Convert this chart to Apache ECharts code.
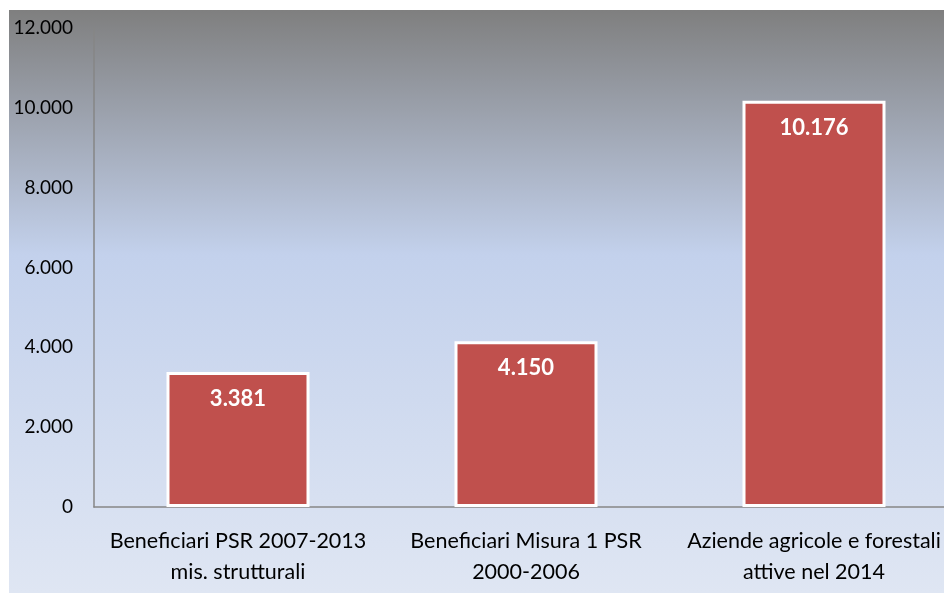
<!DOCTYPE html>
<html><head><meta charset="utf-8">
<script src="https://cdn.jsdelivr.net/npm/echarts@6/dist/echarts.min.js"></script>
<style>
html,body{margin:0;padding:0;background:#fff;overflow:hidden;width:944px;height:594px;}
#c{position:absolute;left:9px;top:10px;width:949px;height:583px;}
</style></head><body>
<div id="c"></div>
<script>
const categories = ['Beneficiari PSR 2007-2013\nmis. strutturali', 'Beneficiari Misura 1 PSR\n2000-2006', 'Aziende agricole e forestali\nattive nel 2014'];
const values = [3381, 4150, 10176];
const yTicks = [0, 2000, 4000, 6000, 8000, 10000, 12000];

function fmt(v){ return String(v).replace(/\B(?=(\d{3})+(?!\d))/g, '.'); }
const FONT = 'Lato';
const chart = echarts.init(document.getElementById('c'));
chart.setOption({
  backgroundColor: new echarts.graphic.LinearGradient(0,0,0,1,[
    {offset:0,color:'#7f7f7f'},
    {offset:0.42,color:'#c3d1ec'},
    {offset:1,color:'#dfe6f3'}
  ]),
  animation:false,
  grid:{left:85,right:0,top:18,bottom:86,containLabel:false},
  xAxis:{type:'category',data:categories,
    axisLine:{lineStyle:{color:'#868686',width:1.5}},axisTick:{show:false},
    axisLabel:{color:'#000',fontFamily:FONT,fontSize:21.5,lineHeight:31,margin:19,interval:0}},
  yAxis:{type:'value',min:yTicks[0],max:yTicks[yTicks.length-1],interval:2000,
    axisLine:{show:true,lineStyle:{color:'#868686',width:1.5}},axisTick:{show:false},
    splitLine:{show:false},
    axisLabel:{color:'#000',fontFamily:FONT,fontSize:19,margin:21,formatter:fmt}},
  series:[{type:'bar',data:values,barWidth:143,
    itemStyle:{color:'#c0504d',borderColor:'#ffffff',borderWidth:3},
    label:{show:true,position:'insideTop',distance:16,color:'#fff',fontWeight:'bold',
      fontFamily:FONT,fontSize:22,formatter:p=>fmt(p.value)}}]
});
</script></body></html>
